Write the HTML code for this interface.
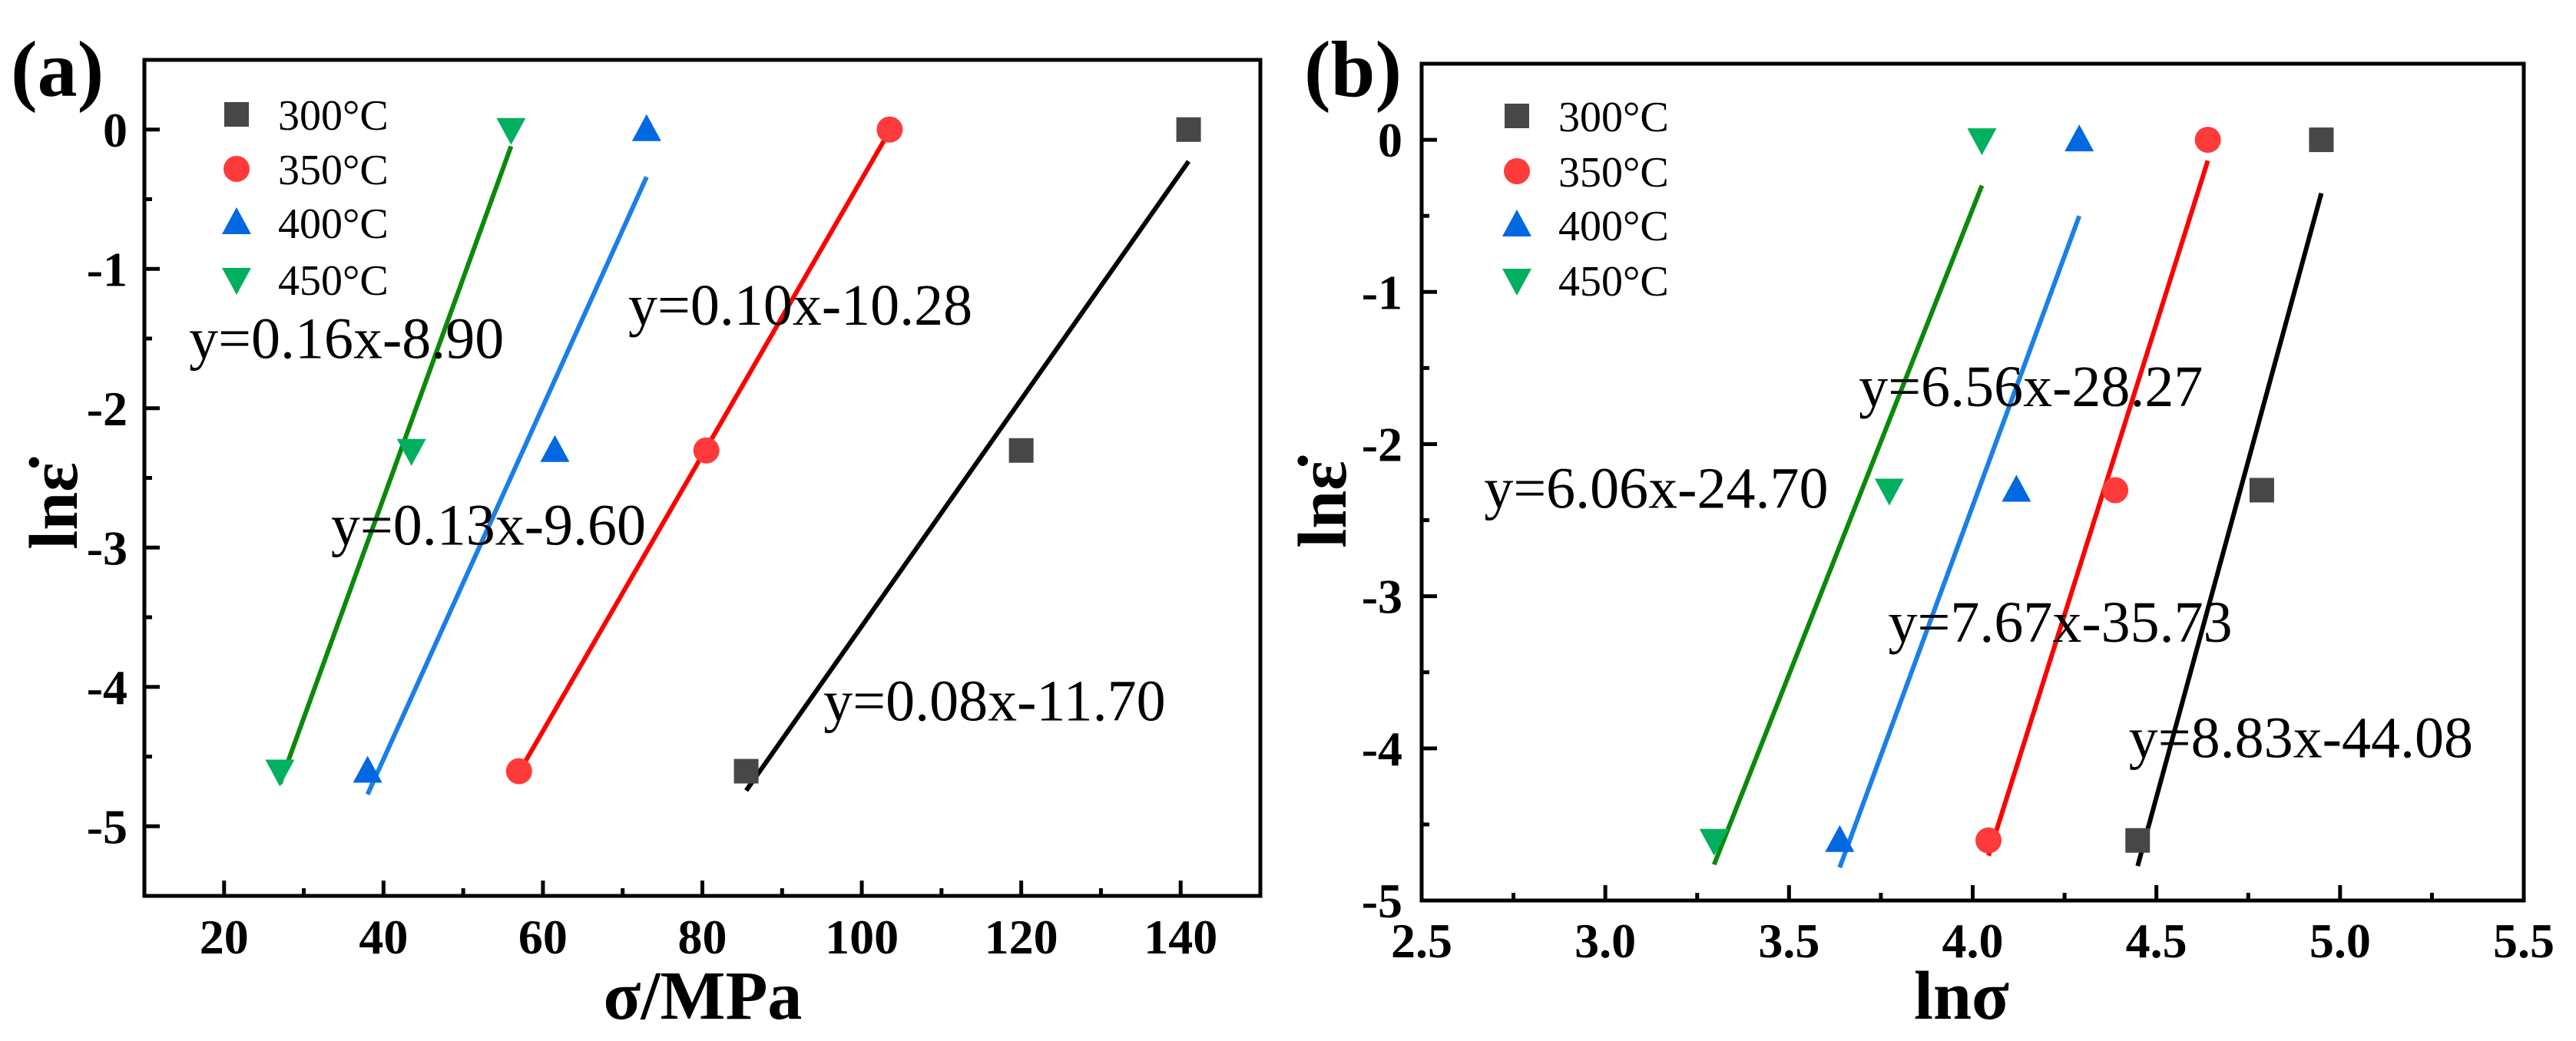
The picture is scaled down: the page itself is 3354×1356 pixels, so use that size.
<!DOCTYPE html>
<html><head><meta charset="utf-8"><style>
html,body{margin:0;padding:0;background:#fff;}
svg{display:block;}
text{font-family:"Liberation Serif",serif;}
</style></head><body>
<svg id="fig" width="3354" height="1356" viewBox="0 0 3354 1356" xmlns="http://www.w3.org/2000/svg"></svg>
<script>
const seriesNames = ["300°C","350°C","400°C","450°C"];
const yValues = [0, -2.303, -4.605];
const sigma300 = [141, 120, 85.5];
const sigma350 = [103.5, 80.5, 57];
const sigma400 = [73, 61.5, 38];
const sigma450 = [56, 43.5, 27];
const lnSigma300 = [4.949, 4.787, 4.449];
const lnSigma350 = [4.640, 4.388, 4.043];
const lnSigma400 = [4.290, 4.119, 3.638];
const lnSigma450 = [4.025, 3.773, 3.296];
const fitLabelsA = ["y=0.08x-11.70","y=0.10x-10.28","y=0.13x-9.60","y=0.16x-8.90"];
const fitLabelsB = ["y=8.83x-44.08","y=7.67x-35.73","y=6.56x-28.27","y=6.06x-24.70"];
const xTicksA = [20,40,60,80,100,120,140];
const yTicks = [0,-1,-2,-3,-4,-5];
const xTicksB = [2.5,3.0,3.5,4.0,4.5,5.0,5.5];

const NS="http://www.w3.org/2000/svg";
const svg=document.getElementById('fig');
function mk(tag,attrs,parent){const e=document.createElementNS(NS,tag);for(const k in attrs)e.setAttribute(k,attrs[k]);(parent||svg).appendChild(e);return e;}
const markerFill=["#474747","#ff3a3a","#0068e0","#00b060"];
const lineCol=["#000000","#ff0000","#1a7fe8","#0a8a0a"];
const shapes=["square","circle","up","down"];

function marker(g,shape,cx,cy,col){
  let e;
  if(shape==="square"){e=mk('rect',{x:cx-16,y:cy-16,width:32,height:32,fill:col},g);}
  else if(shape==="circle"){e=mk('circle',{cx:cx,cy:cy,r:17,fill:col},g);}
  else if(shape==="up"){e=mk('polygon',{points:`${cx},${cy-20} ${cx-19},${cy+15} ${cx+19},${cy+15}`,fill:col},g);}
  else {e=mk('polygon',{points:`${cx},${cy+20} ${cx-19},${cy-15} ${cx+19},${cy-15}`,fill:col},g);}
  
  
  return e;
}
function fit(xs,ys){const n=xs.length;let sx=0,sy=0,sxx=0,sxy=0;for(let i=0;i<n;i++){sx+=xs[i];sy+=ys[i];sxx+=xs[i]*xs[i];sxy+=xs[i]*ys[i];}const m=(n*sxy-sx*sy)/(n*sxx-sx*sx);return {m:m,b:(sy-m*sx)/n};}

function panel(cfg){
  const g=mk('g',{});
  
  
  const X=v=>cfg.L+(v-cfg.x0)/(cfg.x1-cfg.x0)*(cfg.R-cfg.L);
  const Y=v=>cfg.T+(cfg.y1-v)/(cfg.y1-cfg.y0)*(cfg.B-cfg.T);
  // frame
  const fr=mk('rect',{x:cfg.L,y:cfg.T,width:cfg.R-cfg.L,height:cfg.B-cfg.T,fill:'none',stroke:'#000','stroke-width':5},g);
  
  
  // x ticks
  for(let v=cfg.x0; v<=cfg.x1+1e-9; v+=cfg.xMinor){
    const major=cfg.xTicks.some(t=>Math.abs(t-v)<1e-6);
    const t=mk('line',{x1:X(v),x2:X(v),y1:cfg.B,y2:cfg.B-(major?20:10),stroke:'#000','stroke-width':5},g);
    
    
  }
  cfg.xTicks.forEach(v=>{
    const t=mk('text',{x:X(v),y:cfg.xLabelY,'font-size':64,'font-weight':'bold','text-anchor':'middle'},g);
    t.textContent=cfg.xFmt(v);
    
    
  });
  for(let v=cfg.y0; v<=cfg.y1+1e-9; v+=0.5){
    const major=Math.abs(v-Math.round(v))<1e-6;
    const t=mk('line',{x1:cfg.L,x2:cfg.L+(major?20:10),y1:Y(v),y2:Y(v),stroke:'#000','stroke-width':5},g);
    
    
  }
  yTicks.forEach(v=>{
    const t=mk('text',{x:cfg.yLabelX,y:Y(v)+22,'font-size':64,'font-weight':'bold','text-anchor':'end'},g);
    t.textContent=String(v);
    
    
  });
  // fit lines + markers
  cfg.data.forEach((xs,i)=>{
    const f=fit(xs,yValues);
    const xa=Math.min(...xs),xb=Math.max(...xs);
    const l=mk('line',{x1:X(xa),y1:Y(f.m*xa+f.b),x2:X(xb),y2:Y(f.m*xb+f.b),stroke:lineCol[i],'stroke-width':6},g);
    
    
  });
  cfg.data.forEach((xs,i)=>{
    xs.forEach((xv,j)=>marker(g,shapes[i],X(xv),Y(yValues[j]),markerFill[i]));
  });
  // equation labels
  cfg.labels.forEach((s,i)=>{
    const p=cfg.labelPos[i];
    const t=mk('text',{x:X(p[0]),y:Y(p[1]),'font-size':76},g);
    t.textContent=s;
    
    
  });
  // legend
  const lg=mk('g',{},g);
  
  
  seriesNames.forEach((s,i)=>{
    const y=cfg.legY[i];
    marker(lg,shapes[i],cfg.legX,y,markerFill[i]);
    const t=mk('text',{x:cfg.legX+54,y:y+20,'font-size':56},lg);
    t.textContent=s;
    
    
  });
  // titles
  const xt=mk('text',{x:cfg.xTitleX,y:1327,'font-size':90,'font-weight':'bold','text-anchor':'middle'},g);
  xt.textContent=cfg.xTitle;
  
  
  const yt=mk('text',{x:0,y:0,'font-size':90,'font-weight':'bold','text-anchor':'middle',transform:`translate(${cfg.yTitleX},${cfg.yTitleY}) rotate(-90)`},g);
  yt.textContent='ln\u03B5\u0307';
  
  
  const pl=mk('text',{x:cfg.plX,y:125,'font-size':104,'font-weight':'bold'},g);
  pl.textContent=cfg.pl;
  
  
}

panel({name:'panel-a',L:188,R:1641,T:78,B:1167,x0:10,x1:150,y0:-5.5,y1:0.5,xMinor:10,xTicks:xTicksA,
  xFmt:v=>String(v),xLabelY:1242,yLabelX:166,
  data:[sigma300,sigma350,sigma400,sigma450],labels:fitLabelsA,
  labelPos:[[95.2,-4.24],[70.7,-1.40],[33.4,-2.98],[15.6,-1.64]],
  legX:308,legY:[149,220,290,364],xTitle:'\u03C3/MPa',xTitleX:915,yTitleX:100,yTitleY:659,plX:14,pl:'(a)'});
panel({name:'panel-b',L:1851,R:3286,T:83,B:1173,x0:2.5,x1:5.5,y0:-5,y1:0.5,xMinor:0.25,xTicks:xTicksB,
  xFmt:v=>v.toFixed(1),xLabelY:1247,yLabelX:1826,
  data:[lnSigma300,lnSigma350,lnSigma400,lnSigma450],labels:fitLabelsB,
  labelPos:[[4.425,-4.06],[3.77,-3.30],[3.69,-1.75],[2.67,-2.42]],
  legX:1975,legY:[151,223,293,365],xTitle:'ln\u03C3',xTitleX:2554,yTitleX:1752,yTitleY:657,plX:1698,pl:'(b)'});
</script>
</body></html>
